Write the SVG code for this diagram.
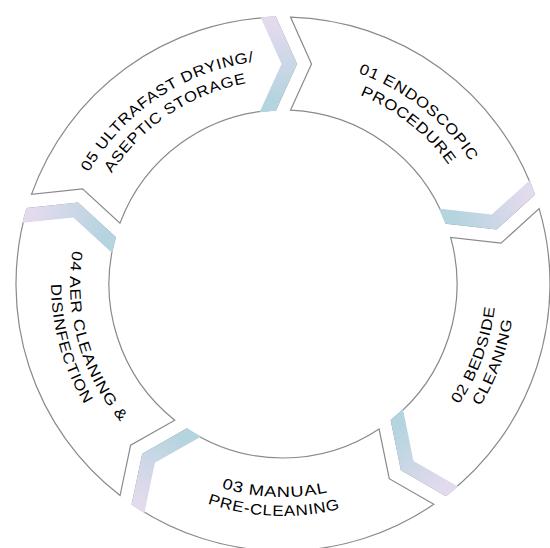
<svg xmlns="http://www.w3.org/2000/svg" width="550" height="548" viewBox="0 0 550 548">
  <style>
    .seg { fill: #ffffff; stroke: #8a8a8a; stroke-width: 1.2; stroke-linejoin: miter; }
    .band { fill: url(#bandGrad); clip-path: url(#ring); }
    .lbl { font-family: "Liberation Sans", Arial, sans-serif; font-size: 15px; letter-spacing: 0.6px; fill: #000000; text-anchor: middle; }
  </style>
  <defs>
    <!-- one step of the cycle, drawn between 0 and 72 degrees (clockwise from north) around (283,284) -->
    <path id="stepShape" d="M290.5,17.1 A267,267 0 0 1 534.52,194.39 L496.41,228.86 L446.01,223.15 A174,174 0 0 0 290.5,110.16 L311.5,64 Z"/>
    <!-- coloured band along the leading chevron -->
    <polygon id="stepBand" points="544.23,186.34 496.59,229.43 433.60,222.29 428.78,207.45 491.77,214.59 539.41,171.50"/>
    <linearGradient id="bandGrad" gradientUnits="userSpaceOnUse" x1="536.93" y1="201.49" x2="448.48" y2="230.23">
      <stop offset="0.1" stop-color="#e2daed"/>
      <stop offset="0.9" stop-color="#b4d4df"/>
    </linearGradient>
    <clipPath id="ring" clipPathUnits="userSpaceOnUse">
      <path clip-rule="evenodd" d="M15.3,284 a267.7,267.7 0 1 0 535.4,0 a267.7,267.7 0 1 0 -535.4,0 Z M109.6,284 a173.4,173.4 0 1 0 346.8,0 a173.4,173.4 0 1 0 -346.8,0 Z"/>
    </clipPath>
    <!-- label baselines: clockwise arcs for the upper steps, counter-clockwise for the lower ones -->
    <path id="cwOuter" d="M165.29,93.42 A224,224 0 0 1 495.67,354.34"/>
    <path id="cwInner" d="M175.80,110.44 A204,204 0 0 1 476.68,348.06"/>
    <path id="ccwInner" d="M485.22,350.88 A213,213 0 0 0 171.07,102.78"/>
    <path id="ccwOuter" d="M503.26,356.85 A232,232 0 0 0 161.08,86.61"/>
  </defs>

  <rect width="550" height="548" fill="#ffffff"/>

  <g id="step-01">
    <use href="#stepShape" class="seg"/>
    <use href="#stepBand" class="band"/>
    <text class="lbl"><textPath href="#cwOuter" startOffset="50%" textLength="146" lengthAdjust="spacingAndGlyphs">01 ENDOSCOPIC</textPath></text>
    <text class="lbl"><textPath href="#cwInner" startOffset="50%" textLength="115" lengthAdjust="spacingAndGlyphs">PROCEDURE</textPath></text>
  </g>

  <g id="step-02" transform="rotate(72 283 284)">
    <use href="#stepShape" class="seg"/>
    <use href="#stepBand" class="band"/>
    <text class="lbl"><textPath href="#ccwInner" startOffset="50%" textLength="105" lengthAdjust="spacingAndGlyphs">02 BEDSIDE</textPath></text>
    <text class="lbl"><textPath href="#ccwOuter" startOffset="50%" textLength="93" lengthAdjust="spacingAndGlyphs">CLEANING</textPath></text>
  </g>

  <g id="step-03" transform="rotate(144 283 284)">
    <use href="#stepShape" class="seg"/>
    <use href="#stepBand" class="band"/>
    <text class="lbl"><textPath href="#ccwInner" startOffset="50%" textLength="108" lengthAdjust="spacingAndGlyphs">03 MANUAL</textPath></text>
    <text class="lbl"><textPath href="#ccwOuter" startOffset="50%" textLength="135" lengthAdjust="spacingAndGlyphs">PRE-CLEANING</textPath></text>
  </g>

  <g id="step-04" transform="rotate(216 283 284)">
    <use href="#stepShape" class="seg"/>
    <use href="#stepBand" class="band"/>
    <text class="lbl"><textPath href="#ccwInner" startOffset="50%" textLength="184" lengthAdjust="spacingAndGlyphs">04 AER CLEANING &amp;</textPath></text>
    <text class="lbl"><textPath href="#ccwOuter" startOffset="50%" textLength="127" lengthAdjust="spacingAndGlyphs">DISINFECTION</textPath></text>
  </g>

  <g id="step-05" transform="rotate(288 283 284)">
    <use href="#stepShape" class="seg"/>
    <use href="#stepBand" class="band"/>
    <text class="lbl"><textPath href="#cwOuter" startOffset="50%" textLength="206" lengthAdjust="spacingAndGlyphs">05 ULTRAFAST DRYING/</textPath></text>
    <text class="lbl"><textPath href="#cwInner" startOffset="50%" textLength="167" lengthAdjust="spacingAndGlyphs">ASEPTIC STORAGE</textPath></text>
  </g>
</svg>
